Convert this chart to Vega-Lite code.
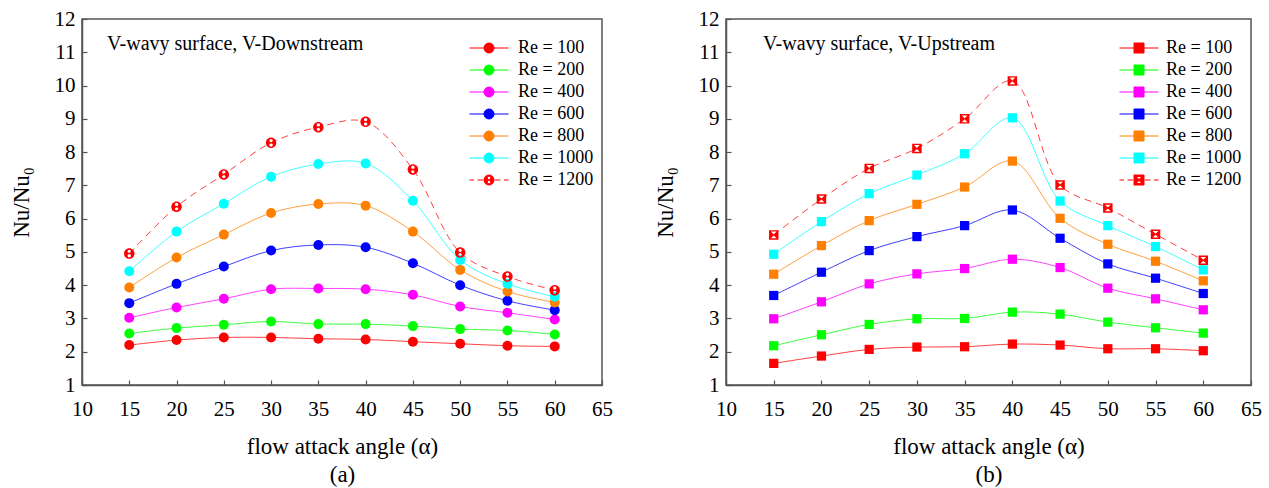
{
  "$schema": "https://vega.github.io/schema/vega-lite/v6.json",
  "padding": {"left": 9, "top": 7, "right": 5, "bottom": 5},
  "spacing": 39,
  "data": {"values": [
    {"p":"a","Re":100,"x":15,"y":2.20},{"p":"a","Re":100,"x":20,"y":2.35},{"p":"a","Re":100,"x":25,"y":2.43},{"p":"a","Re":100,"x":30,"y":2.43},{"p":"a","Re":100,"x":35,"y":2.39},{"p":"a","Re":100,"x":40,"y":2.37},{"p":"a","Re":100,"x":45,"y":2.30},{"p":"a","Re":100,"x":50,"y":2.24},{"p":"a","Re":100,"x":55,"y":2.18},{"p":"a","Re":100,"x":60,"y":2.16},
    {"p":"a","Re":200,"x":15,"y":2.55},{"p":"a","Re":200,"x":20,"y":2.71},{"p":"a","Re":200,"x":25,"y":2.81},{"p":"a","Re":200,"x":30,"y":2.91},{"p":"a","Re":200,"x":35,"y":2.83},{"p":"a","Re":200,"x":40,"y":2.83},{"p":"a","Re":200,"x":45,"y":2.77},{"p":"a","Re":200,"x":50,"y":2.68},{"p":"a","Re":200,"x":55,"y":2.64},{"p":"a","Re":200,"x":60,"y":2.52},
    {"p":"a","Re":400,"x":15,"y":3.02},{"p":"a","Re":400,"x":20,"y":3.33},{"p":"a","Re":400,"x":25,"y":3.59},{"p":"a","Re":400,"x":30,"y":3.88},{"p":"a","Re":400,"x":35,"y":3.90},{"p":"a","Re":400,"x":40,"y":3.88},{"p":"a","Re":400,"x":45,"y":3.71},{"p":"a","Re":400,"x":50,"y":3.36},{"p":"a","Re":400,"x":55,"y":3.17},{"p":"a","Re":400,"x":60,"y":2.97},
    {"p":"a","Re":600,"x":15,"y":3.46},{"p":"a","Re":600,"x":20,"y":4.04},{"p":"a","Re":600,"x":25,"y":4.56},{"p":"a","Re":600,"x":30,"y":5.04},{"p":"a","Re":600,"x":35,"y":5.21},{"p":"a","Re":600,"x":40,"y":5.14},{"p":"a","Re":600,"x":45,"y":4.66},{"p":"a","Re":600,"x":50,"y":4.00},{"p":"a","Re":600,"x":55,"y":3.53},{"p":"a","Re":600,"x":60,"y":3.25},
    {"p":"a","Re":800,"x":15,"y":3.93},{"p":"a","Re":800,"x":20,"y":4.83},{"p":"a","Re":800,"x":25,"y":5.52},{"p":"a","Re":800,"x":30,"y":6.17},{"p":"a","Re":800,"x":35,"y":6.44},{"p":"a","Re":800,"x":40,"y":6.39},{"p":"a","Re":800,"x":45,"y":5.61},{"p":"a","Re":800,"x":50,"y":4.46},{"p":"a","Re":800,"x":55,"y":3.81},{"p":"a","Re":800,"x":60,"y":3.48},
    {"p":"a","Re":1000,"x":15,"y":4.42},{"p":"a","Re":1000,"x":20,"y":5.61},{"p":"a","Re":1000,"x":25,"y":6.45},{"p":"a","Re":1000,"x":30,"y":7.26},{"p":"a","Re":1000,"x":35,"y":7.64},{"p":"a","Re":1000,"x":40,"y":7.66},{"p":"a","Re":1000,"x":45,"y":6.54},{"p":"a","Re":1000,"x":50,"y":4.76},{"p":"a","Re":1000,"x":55,"y":4.04},{"p":"a","Re":1000,"x":60,"y":3.65},
    {"p":"a","Re":1200,"x":15,"y":4.95},{"p":"a","Re":1200,"x":20,"y":6.36},{"p":"a","Re":1200,"x":25,"y":7.33},{"p":"a","Re":1200,"x":30,"y":8.28},{"p":"a","Re":1200,"x":35,"y":8.75},{"p":"a","Re":1200,"x":40,"y":8.91},{"p":"a","Re":1200,"x":45,"y":7.48},{"p":"a","Re":1200,"x":50,"y":4.98},{"p":"a","Re":1200,"x":55,"y":4.26},{"p":"a","Re":1200,"x":60,"y":3.85},
    {"p":"b","Re":100,"x":15,"y":1.65},{"p":"b","Re":100,"x":20,"y":1.87},{"p":"b","Re":100,"x":25,"y":2.07},{"p":"b","Re":100,"x":30,"y":2.14},{"p":"b","Re":100,"x":35,"y":2.15},{"p":"b","Re":100,"x":40,"y":2.23},{"p":"b","Re":100,"x":45,"y":2.20},{"p":"b","Re":100,"x":50,"y":2.09},{"p":"b","Re":100,"x":55,"y":2.09},{"p":"b","Re":100,"x":60,"y":2.03},
    {"p":"b","Re":200,"x":15,"y":2.18},{"p":"b","Re":200,"x":20,"y":2.51},{"p":"b","Re":200,"x":25,"y":2.82},{"p":"b","Re":200,"x":30,"y":2.99},{"p":"b","Re":200,"x":35,"y":3.00},{"p":"b","Re":200,"x":40,"y":3.19},{"p":"b","Re":200,"x":45,"y":3.13},{"p":"b","Re":200,"x":50,"y":2.89},{"p":"b","Re":200,"x":55,"y":2.72},{"p":"b","Re":200,"x":60,"y":2.56},
    {"p":"b","Re":400,"x":15,"y":2.99},{"p":"b","Re":400,"x":20,"y":3.50},{"p":"b","Re":400,"x":25,"y":4.04},{"p":"b","Re":400,"x":30,"y":4.34},{"p":"b","Re":400,"x":35,"y":4.50},{"p":"b","Re":400,"x":40,"y":4.78},{"p":"b","Re":400,"x":45,"y":4.53},{"p":"b","Re":400,"x":50,"y":3.91},{"p":"b","Re":400,"x":55,"y":3.59},{"p":"b","Re":400,"x":60,"y":3.26},
    {"p":"b","Re":600,"x":15,"y":3.69},{"p":"b","Re":600,"x":20,"y":4.39},{"p":"b","Re":600,"x":25,"y":5.04},{"p":"b","Re":600,"x":30,"y":5.46},{"p":"b","Re":600,"x":35,"y":5.79},{"p":"b","Re":600,"x":40,"y":6.26},{"p":"b","Re":600,"x":45,"y":5.41},{"p":"b","Re":600,"x":50,"y":4.64},{"p":"b","Re":600,"x":55,"y":4.21},{"p":"b","Re":600,"x":60,"y":3.75},
    {"p":"b","Re":800,"x":15,"y":4.33},{"p":"b","Re":800,"x":20,"y":5.19},{"p":"b","Re":800,"x":25,"y":5.94},{"p":"b","Re":800,"x":30,"y":6.43},{"p":"b","Re":800,"x":35,"y":6.95},{"p":"b","Re":800,"x":40,"y":7.73},{"p":"b","Re":800,"x":45,"y":6.01},{"p":"b","Re":800,"x":50,"y":5.23},{"p":"b","Re":800,"x":55,"y":4.72},{"p":"b","Re":800,"x":60,"y":4.13},
    {"p":"b","Re":1000,"x":15,"y":4.93},{"p":"b","Re":1000,"x":20,"y":5.91},{"p":"b","Re":1000,"x":25,"y":6.75},{"p":"b","Re":1000,"x":30,"y":7.31},{"p":"b","Re":1000,"x":35,"y":7.95},{"p":"b","Re":1000,"x":40,"y":9.03},{"p":"b","Re":1000,"x":45,"y":6.53},{"p":"b","Re":1000,"x":50,"y":5.79},{"p":"b","Re":1000,"x":55,"y":5.16},{"p":"b","Re":1000,"x":60,"y":4.46},
    {"p":"b","Re":1200,"x":15,"y":5.51},{"p":"b","Re":1200,"x":20,"y":6.59},{"p":"b","Re":1200,"x":25,"y":7.51},{"p":"b","Re":1200,"x":30,"y":8.11},{"p":"b","Re":1200,"x":35,"y":9.00},{"p":"b","Re":1200,"x":40,"y":10.14},{"p":"b","Re":1200,"x":45,"y":7.01},{"p":"b","Re":1200,"x":50,"y":6.32},{"p":"b","Re":1200,"x":55,"y":5.53},{"p":"b","Re":1200,"x":60,"y":4.75}
  ]},
  "resolve": {"scale": {"color": "independent", "stroke": "independent", "shape": "independent"}, "legend": {"color": "independent", "stroke": "independent", "shape": "independent"}},
  "hconcat": [
    {
      "width": 520, "height": 366,
      "title": {"text": "V-wavy surface, V-Downstream", "anchor": "start", "frame": "group", "orient": "top", "baseline": "alphabetic", "offset": -62, "dx": 25, "fontSize": 20, "font": "Liberation Serif", "fontWeight": "normal", "color": "#000"},
      "layer": [
        {
          "transform": [{"filter": "datum.p == 'legend-only'"}],
          "mark": {"type": "point", "filled": true, "size": 100, "opacity": 1, "strokeWidth": 1},
          "encoding": {
            "x": {"field": "x", "type": "quantitative", "scale": {"domain": [10, 65], "nice": false},
                  "axis": {"values": [10,15,20,25,30,35,40,45,50,55,60,65], "tickCount": 30, "format": "d", "labelFlush": false, "title": ["flow attack angle (α)", "(a)"], "titleLineHeight": 28, "titlePadding": 16, "labelPadding": 18}},
            "y": {"field": "y", "type": "quantitative", "scale": {"domain": [1, 12], "nice": false},
                  "axis": {"values": [1,1.5,2,2.5,3,3.5,4,4.5,5,5.5,6,6.5,7,7.5,8,8.5,9,9.5,10,10.5,11,11.5,12], "tickCount": 50, "format": "d", "labelOverlap": false, "labelFontSize": {"condition": {"test": "datum.value % 1 != 0", "value": 0}, "value": 21}, "labelExpr": "datum.value % 1 == 0 ? datum.label : ''", "title": "Nu/Nu₀", "titlePadding": 21, "labelPadding": 12}},
            "color": {"field": "Re", "type": "nominal",
                      "scale": {"domain": [100,200,400,600,800,1000,1200], "range": ["#ff0000","#00ff00","#ff00ff","#0000ff","#ff8000","#00ffff","#ff0000"]},
                      "legend": {"orient": "none", "legendX": 398, "legendY": 20, "title": null, "padding": 0, "labelExpr": "'Re = ' + datum.label", "symbolSize": 100, "symbolStrokeWidth": 1, "labelFontSize": 18, "labelFont": "Liberation Serif", "labelColor": "#000", "labelOffset": 20, "rowPadding": 4}},
            "stroke": {"field": "Re", "type": "nominal",
                       "scale": {"domain": [100,200,400,600,800,1000,1200], "range": ["#ff6666","#66ff66","#ff66ff","#6666ff","#ffaa55","#66ffff","#ff6666"]},
                       "legend": {"orient": "none", "legendX": 398, "legendY": 20, "title": null, "padding": 0, "labelExpr": "'Re = ' + datum.label", "symbolSize": 100, "symbolStrokeWidth": 1, "labelFontSize": 18, "labelFont": "Liberation Serif", "labelColor": "#000", "labelOffset": 20, "rowPadding": 4}},
            "shape": {"field": "Re", "type": "nominal",
                      "scale": {"domain": [100,200,400,600,800,1000,1200], "range": [
                        "M-3.9,0H-1M1,0H3.9M-1,0A1,1,0,1,1,1,0A1,1,0,1,1,-1,0Z",
                        "M-3.9,0H-1M1,0H3.9M-1,0A1,1,0,1,1,1,0A1,1,0,1,1,-1,0Z",
                        "M-3.9,0H-1M1,0H3.9M-1,0A1,1,0,1,1,1,0A1,1,0,1,1,-1,0Z",
                        "M-3.9,0H-1M1,0H3.9M-1,0A1,1,0,1,1,1,0A1,1,0,1,1,-1,0Z",
                        "M-3.9,0H-1M1,0H3.9M-1,0A1,1,0,1,1,1,0A1,1,0,1,1,-1,0Z",
                        "M-3.9,0H-1M1,0H3.9M-1,0A1,1,0,1,1,1,0A1,1,0,1,1,-1,0Z",
                        "M-3.9,0H-3.0M-2.3,0H-1.2M1.2,0H2.3M3.0,0H3.9M-1,0A1,1,0,1,1,1,0A1,1,0,1,1,-1,0ZM0.32,-0.42A0.32,0.32,0,0,0,-0.32,-0.42A0.32,0.32,0,0,0,0.32,-0.42ZM0.32,0.42A0.32,0.32,0,0,0,-0.32,0.42A0.32,0.32,0,0,0,0.32,0.42Z"]},
                      "legend": {"orient": "none", "legendX": 398, "legendY": 20, "title": null, "padding": 0, "labelExpr": "'Re = ' + datum.label", "symbolSize": 100, "symbolStrokeWidth": 1, "labelFontSize": 18, "labelFont": "Liberation Serif", "labelColor": "#000", "labelOffset": 20, "rowPadding": 4}}
          }
        },
        {
          "transform": [{"filter": "datum.p == 'a' && datum.Re != 1200"}],
          "mark": {"type": "line", "interpolate": "catmull-rom", "strokeWidth": 1, "opacity": 0.75},
          "encoding": {"x": {"field": "x", "type": "quantitative"}, "y": {"field": "y", "type": "quantitative"}, "color": {"field": "Re", "type": "nominal", "legend": null}}
        },
        {
          "transform": [{"filter": "datum.p == 'a' && datum.Re == 1200"}],
          "mark": {"type": "line", "interpolate": "catmull-rom", "strokeWidth": 1, "opacity": 0.75, "strokeDash": [7, 5]},
          "encoding": {"x": {"field": "x", "type": "quantitative"}, "y": {"field": "y", "type": "quantitative"}, "color": {"field": "Re", "type": "nominal", "legend": null}}
        },
        {
          "transform": [{"filter": "datum.p == 'a' && datum.Re != 1200"}],
          "mark": {"type": "point", "filled": true, "shape": "circle", "size": 100, "opacity": 1},
          "encoding": {"x": {"field": "x", "type": "quantitative"}, "y": {"field": "y", "type": "quantitative"}, "color": {"field": "Re", "type": "nominal", "legend": null}}
        },
        {
          "transform": [{"filter": "datum.p == 'a' && datum.Re == 1200"}],
          "mark": {"type": "point", "filled": true, "size": 110, "opacity": 1, "shape": "M-1,0A1,1,0,1,1,1,0A1,1,0,1,1,-1,0ZM0.32,-0.42A0.32,0.32,0,0,0,-0.32,-0.42A0.32,0.32,0,0,0,0.32,-0.42ZM0.32,0.42A0.32,0.32,0,0,0,-0.32,0.42A0.32,0.32,0,0,0,0.32,0.42Z"},
          "encoding": {"x": {"field": "x", "type": "quantitative"}, "y": {"field": "y", "type": "quantitative"}, "color": {"field": "Re", "type": "nominal", "legend": null}}
        }
      ]
    },
    {
      "width": 525, "height": 366,
      "title": {"text": "V-wavy surface, V-Upstream", "anchor": "start", "frame": "group", "orient": "top", "baseline": "alphabetic", "offset": -62, "dx": 37, "fontSize": 20, "font": "Liberation Serif", "fontWeight": "normal", "color": "#000"},
      "layer": [
        {
          "transform": [{"filter": "datum.p == 'legend-only'"}],
          "mark": {"type": "point", "filled": true, "size": 100, "opacity": 1, "strokeWidth": 1},
          "encoding": {
            "x": {"field": "x", "type": "quantitative", "scale": {"domain": [10, 65], "nice": false},
                  "axis": {"values": [10,15,20,25,30,35,40,45,50,55,60,65], "tickCount": 30, "format": "d", "labelFlush": false, "title": ["flow attack angle (α)", "(b)"], "titleLineHeight": 28, "titlePadding": 16, "labelPadding": 18}},
            "y": {"field": "y", "type": "quantitative", "scale": {"domain": [1, 12], "nice": false},
                  "axis": {"values": [1,1.5,2,2.5,3,3.5,4,4.5,5,5.5,6,6.5,7,7.5,8,8.5,9,9.5,10,10.5,11,11.5,12], "tickCount": 50, "format": "d", "labelOverlap": false, "labelFontSize": {"condition": {"test": "datum.value % 1 != 0", "value": 0}, "value": 21}, "labelExpr": "datum.value % 1 == 0 ? datum.label : ''", "title": "Nu/Nu₀", "titlePadding": 21, "labelPadding": 12}},
            "color": {"field": "Re", "type": "nominal",
                      "scale": {"domain": [100,200,400,600,800,1000,1200], "range": ["#ff0000","#00ff00","#ff00ff","#0000ff","#ff8000","#00ffff","#ff0000"]},
                      "legend": {"orient": "none", "legendX": 404, "legendY": 20, "title": null, "padding": 0, "labelExpr": "'Re = ' + datum.label", "symbolSize": 100, "symbolStrokeWidth": 1, "labelFontSize": 18, "labelFont": "Liberation Serif", "labelColor": "#000", "labelOffset": 18, "rowPadding": 4}},
            "stroke": {"field": "Re", "type": "nominal",
                       "scale": {"domain": [100,200,400,600,800,1000,1200], "range": ["#ff6666","#66ff66","#ff66ff","#6666ff","#ffaa55","#66ffff","#ff6666"]},
                       "legend": {"orient": "none", "legendX": 404, "legendY": 20, "title": null, "padding": 0, "labelExpr": "'Re = ' + datum.label", "symbolSize": 100, "symbolStrokeWidth": 1, "labelFontSize": 18, "labelFont": "Liberation Serif", "labelColor": "#000", "labelOffset": 18, "rowPadding": 4}},
            "shape": {"field": "Re", "type": "nominal",
                      "scale": {"domain": [100,200,400,600,800,1000,1200], "range": [
                        "M-3.9,0H-1M1,0H3.9M-1,-1H1V1H-1Z",
                        "M-3.9,0H-1M1,0H3.9M-1,-1H1V1H-1Z",
                        "M-3.9,0H-1M1,0H3.9M-1,-1H1V1H-1Z",
                        "M-3.9,0H-1M1,0H3.9M-1,-1H1V1H-1Z",
                        "M-3.9,0H-1M1,0H3.9M-1,-1H1V1H-1Z",
                        "M-3.9,0H-1M1,0H3.9M-1,-1H1V1H-1Z",
                        "M-3.9,0H-3.0M-2.3,0H-1.2M1.2,0H2.3M3.0,0H3.9M-1,-1H1V1H-1ZM-0.6,-0.7L0,-0.1L0.6,-0.7ZM-0.6,0.7L0.6,0.7L0,0.1Z"]},
                      "legend": {"orient": "none", "legendX": 404, "legendY": 20, "title": null, "padding": 0, "labelExpr": "'Re = ' + datum.label", "symbolSize": 100, "symbolStrokeWidth": 1, "labelFontSize": 18, "labelFont": "Liberation Serif", "labelColor": "#000", "labelOffset": 18, "rowPadding": 4}}
          }
        },
        {
          "transform": [{"filter": "datum.p == 'b' && datum.Re != 1200"}],
          "mark": {"type": "line", "interpolate": "catmull-rom", "strokeWidth": 1, "opacity": 0.75},
          "encoding": {"x": {"field": "x", "type": "quantitative"}, "y": {"field": "y", "type": "quantitative"}, "color": {"field": "Re", "type": "nominal", "legend": null}}
        },
        {
          "transform": [{"filter": "datum.p == 'b' && datum.Re == 1200"}],
          "mark": {"type": "line", "interpolate": "catmull-rom", "strokeWidth": 1, "opacity": 0.75, "strokeDash": [7, 5]},
          "encoding": {"x": {"field": "x", "type": "quantitative"}, "y": {"field": "y", "type": "quantitative"}, "color": {"field": "Re", "type": "nominal", "legend": null}}
        },
        {
          "transform": [{"filter": "datum.p == 'b' && datum.Re != 1200"}],
          "mark": {"type": "point", "filled": true, "shape": "square", "size": 85, "opacity": 1},
          "encoding": {"x": {"field": "x", "type": "quantitative"}, "y": {"field": "y", "type": "quantitative"}, "color": {"field": "Re", "type": "nominal", "legend": null}}
        },
        {
          "transform": [{"filter": "datum.p == 'b' && datum.Re == 1200"}],
          "mark": {"type": "point", "filled": true, "size": 90, "opacity": 1, "shape": "M-1,-1H1V1H-1ZM-0.6,-0.7L0,-0.1L0.6,-0.7ZM-0.6,0.7L0.6,0.7L0,0.1Z"},
          "encoding": {"x": {"field": "x", "type": "quantitative"}, "y": {"field": "y", "type": "quantitative"}, "color": {"field": "Re", "type": "nominal", "legend": null}}
        }
      ]
    }
  ],
  "config": {
    "font": "Liberation Serif",
    "view": {"stroke": "#555", "strokeWidth": 1.5},
    "axis": {"grid": false, "domainColor": "#555", "domainWidth": 1.5, "tickColor": "#555", "tickWidth": 1.2, "tickSize": -5,
             "labelFont": "Liberation Serif", "labelFontSize": 21, "labelColor": "#000",
             "titleFont": "Liberation Serif", "titleFontSize": 23, "titleFontWeight": "normal", "titleColor": "#000"},
    "axisY": {"labelOverlap": false}
  }
}
